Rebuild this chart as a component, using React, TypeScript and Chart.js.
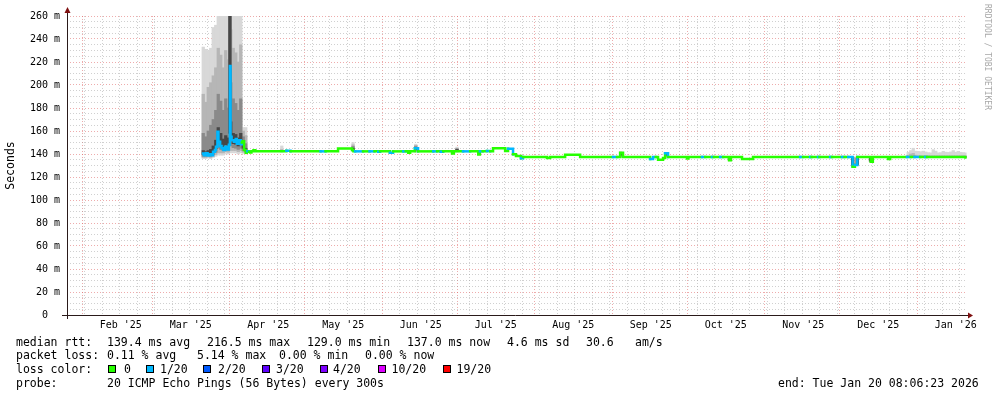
import React, { useEffect, useRef } from 'react';
import { Chart, registerables } from 'chart.js';

Chart.register(...registerables);

// ---------- axis ranges & labels ----------
const RANGE_START = '2025-01-26 00:00';
const RANGE_END = '2026-01-21 00:00';

const MONTH_STARTS = [
  '2025-02-01', '2025-03-01', '2025-04-01', '2025-05-01', '2025-06-01', '2025-07-01',
  '2025-08-01', '2025-09-01', '2025-10-01', '2025-11-01', '2025-12-01', '2026-01-01',
];
const MONTH_LABELS = [
  "Feb '25", "Mar '25", "Apr '25", "May '25", "Jun '25", "Jul '25",
  "Aug '25", "Sep '25", "Oct '25", "Nov '25", "Dec '25", "Jan '26",
];

const Y_MIN = 0;
const Y_MAX = 260;
const Y_MINOR_STEP = 5;
const Y_MAJOR_STEP = 20;
const Y_TITLE = 'Seconds';

// ---------- loss colours ----------
const LOSS_LABELS = ['0', '1/20', '2/20', '3/20', '4/20', '10/20', '19/20'];
const LOSS_COLORS = ['#26ff00', '#00b8ff', '#0059ff', '#5e00ff', '#7e00ff', '#dd00ff', '#ff0000'];

// ---------- median rtt (ms): [time, value, loss colour index] ----------
const medianPoints: [string, number, number][] = [
  ['2025-03-21 10:00', 140.5, 1],
  ['2025-03-21 18:00', 139.0, 1],
  ['2025-03-22 12:00', 140.6, 1],
  ['2025-03-23 06:00', 138.8, 1],
  ['2025-03-24 00:00', 139.7, 1],
  ['2025-03-24 18:00', 138.9, 1],
  ['2025-03-25 10:00', 142.0, 1],
  ['2025-03-26 04:00', 143.5, 1],
  ['2025-03-26 14:00', 146.4, 1],
  ['2025-03-27 04:00', 159.4, 1],
  ['2025-03-27 14:00', 150.7, 1],
  ['2025-03-28 06:00', 147.0, 1],
  ['2025-03-28 20:00', 145.0, 1],
  ['2025-03-29 14:00', 143.5, 1],
  ['2025-03-30 04:00', 146.4, 1],
  ['2025-03-31 00:00', 144.0, 1],
  ['2025-03-31 18:00', 148.0, 1],
  ['2025-04-01 04:00', 216.5, 1],
  ['2025-04-01 10:00', 155.0, 1],
  ['2025-04-01 20:00', 152.0, 1],
  ['2025-04-02 18:00', 150.7, 1],
  ['2025-04-03 12:00', 153.0, 1],
  ['2025-04-03 22:00', 149.0, 1],
  ['2025-04-04 18:00', 152.0, 1],
  ['2025-04-05 12:00', 148.5, 1],
  ['2025-04-05 22:00', 150.0, 0],
  ['2025-04-06 06:00', 151.0, 0],
  ['2025-04-06 20:00', 143.5, 0],
  ['2025-04-07 12:00', 141.0, 0],
  ['2025-04-07 22:00', 142.3, 0],
  ['2025-04-08 04:00', 142.3, 1],
  ['2025-04-08 20:00', 142.0, 0],
  ['2025-04-09 06:00', 141.4, 0],
  ['2025-04-09 18:00', 142.3, 0],
  ['2025-04-10 14:00', 143.2, 0],
  ['2025-04-11 08:00', 142.3, 0],
  ['2025-04-23 18:00', 142.8, 1],
  ['2025-04-25 10:00', 142.3, 0],
  ['2025-05-07 10:00', 142.3, 1],
  ['2025-05-09 10:00', 142.3, 0],
  ['2025-05-14 10:00', 144.8, 0],
  ['2025-05-20 00:00', 143.5, 0],
  ['2025-05-20 14:00', 142.3, 0],
  ['2025-05-21 06:00', 142.3, 1],
  ['2025-05-24 10:00', 142.3, 0],
  ['2025-05-27 00:00', 142.3, 1],
  ['2025-05-29 00:00', 142.3, 0],
  ['2025-05-30 12:00', 142.0, 1],
  ['2025-05-31 06:00', 142.3, 0],
  ['2025-06-04 04:00', 141.0, 1],
  ['2025-06-05 10:00', 142.3, 0],
  ['2025-06-09 12:00', 142.3, 1],
  ['2025-06-10 12:00', 142.3, 0],
  ['2025-06-11 12:00', 141.0, 0],
  ['2025-06-12 06:00', 142.3, 0],
  ['2025-06-14 04:00', 145.0, 1],
  ['2025-06-15 10:00', 142.3, 0],
  ['2025-06-21 12:00', 142.3, 1],
  ['2025-06-23 00:00', 142.3, 0],
  ['2025-06-24 12:00', 142.0, 1],
  ['2025-06-25 12:00', 142.3, 0],
  ['2025-06-29 00:00', 140.4, 0],
  ['2025-06-29 18:00', 142.3, 0],
  ['2025-07-03 10:00', 142.3, 1],
  ['2025-07-06 06:00', 142.3, 0],
  ['2025-07-09 12:00', 139.6, 0],
  ['2025-07-10 04:00', 142.3, 1],
  ['2025-07-11 06:00', 142.3, 0],
  ['2025-07-13 00:00', 142.6, 1],
  ['2025-07-14 06:00', 142.3, 0],
  ['2025-07-15 10:00', 145.0, 0],
  ['2025-07-20 06:00', 142.6, 0],
  ['2025-07-21 10:00', 144.5, 1],
  ['2025-07-23 10:00', 139.8, 0],
  ['2025-07-24 14:00', 138.2, 0],
  ['2025-07-26 14:00', 136.2, 1],
  ['2025-07-27 10:00', 137.4, 0],
  ['2025-08-06 00:00', 136.5, 0],
  ['2025-08-07 06:00', 137.4, 0],
  ['2025-08-13 06:00', 139.3, 0],
  ['2025-08-19 06:00', 137.4, 0],
  ['2025-09-01 10:00', 137.4, 1],
  ['2025-09-03 00:00', 137.4, 0],
  ['2025-09-04 06:00', 141.0, 0],
  ['2025-09-05 10:00', 137.4, 0],
  ['2025-09-16 06:00', 135.6, 1],
  ['2025-09-17 10:00', 137.4, 1],
  ['2025-09-18 12:00', 137.4, 0],
  ['2025-09-19 10:00', 135.0, 0],
  ['2025-09-21 10:00', 136.5, 0],
  ['2025-09-22 06:00', 140.6, 1],
  ['2025-09-23 10:00', 137.4, 0],
  ['2025-10-01 00:00', 136.0, 0],
  ['2025-10-01 14:00', 137.4, 0],
  ['2025-10-07 00:00', 137.4, 1],
  ['2025-10-08 06:00', 137.4, 0],
  ['2025-10-11 00:00', 137.4, 1],
  ['2025-10-11 18:00', 137.4, 0],
  ['2025-10-14 06:00', 137.4, 1],
  ['2025-10-15 10:00', 137.4, 0],
  ['2025-10-17 20:00', 134.5, 0],
  ['2025-10-18 14:00', 137.4, 0],
  ['2025-10-23 00:00', 135.6, 0],
  ['2025-10-27 10:00', 137.4, 0],
  ['2025-11-15 06:00', 137.4, 1],
  ['2025-11-16 10:00', 137.4, 0],
  ['2025-11-19 06:00', 137.4, 1],
  ['2025-11-19 20:00', 137.4, 0],
  ['2025-11-22 10:00', 137.4, 1],
  ['2025-11-23 00:00', 137.4, 0],
  ['2025-11-27 06:00', 137.4, 1],
  ['2025-11-28 00:00', 137.4, 0],
  ['2025-12-02 00:00', 137.4, 1],
  ['2025-12-03 00:00', 137.4, 0],
  ['2025-12-04 12:00', 137.4, 1],
  ['2025-12-06 06:00', 129.0, 0],
  ['2025-12-07 04:00', 130.4, 1],
  ['2025-12-08 03:00', 137.4, 0],
  ['2025-12-13 12:00', 133.3, 0],
  ['2025-12-14 08:00', 137.4, 0],
  ['2025-12-20 10:00', 135.6, 0],
  ['2025-12-21 06:00', 137.4, 0],
  ['2025-12-28 00:00', 137.4, 1],
  ['2025-12-29 12:00', 137.4, 0],
  ['2025-12-31 00:00', 137.4, 1],
  ['2026-01-02 06:00', 137.4, 0],
  ['2026-01-04 06:00', 137.4, 1],
  ['2026-01-05 00:00', 137.4, 0],
  ['2026-01-20 08:00', 137.0, 0],
];

// ---------- smoke (ms): [time, min, p10, p25, p40, p60, p75, p90, max] ----------
type SmokeRow = [string, number, number, number, number, number, number, number, number];

const heavySmoke: SmokeRow[] = [
  ['2025-03-21 12:00', 136.0, 137.0, 138.0, 139.5, 143.0, 158.0, 192.0, 233.0],
  ['2025-03-22 12:00', 136.0, 137.0, 138.0, 139.0, 142.0, 155.0, 185.0, 231.0],
  ['2025-03-23 12:00', 136.5, 137.5, 138.5, 140.0, 143.0, 160.0, 198.0, 230.0],
  ['2025-03-24 12:00', 136.0, 137.0, 138.0, 140.0, 144.0, 165.0, 202.0, 232.0],
  ['2025-03-25 12:00', 137.0, 138.0, 139.5, 141.5, 147.0, 170.0, 208.0, 250.0],
  ['2025-03-26 12:00', 138.0, 139.5, 141.5, 144.5, 152.0, 178.0, 215.0, 252.0],
  ['2025-03-27 12:00', 139.0, 141.0, 145.0, 150.0, 163.0, 192.0, 232.0, 300.0],
  ['2025-03-28 12:00', 139.0, 141.0, 144.0, 148.0, 158.0, 186.0, 226.0, 300.0],
  ['2025-03-29 12:00', 139.0, 141.0, 143.0, 146.0, 153.0, 178.0, 215.0, 300.0],
  ['2025-03-30 12:00', 140.0, 142.0, 144.0, 148.0, 156.0, 188.0, 230.0, 300.0],
  ['2025-03-31 12:00', 140.0, 141.5, 143.5, 147.0, 154.0, 180.0, 222.0, 300.0],
  ['2025-04-01 04:00', 146.0, 150.0, 154.0, 158.0, 300.0, 300.0, 300.0, 300.0],
  ['2025-04-01 12:00', 141.0, 143.0, 147.0, 152.0, 168.0, 202.0, 248.0, 300.0],
  ['2025-04-02 12:00', 141.0, 143.0, 145.5, 149.0, 158.0, 188.0, 232.0, 300.0],
  ['2025-04-03 12:00', 141.0, 143.0, 145.0, 148.5, 157.0, 184.0, 228.0, 300.0],
  ['2025-04-04 12:00', 140.0, 142.0, 144.0, 147.0, 154.0, 178.0, 220.0, 300.0],
  ['2025-04-05 12:00', 141.0, 143.0, 145.0, 148.5, 158.0, 188.0, 235.0, 300.0],
  ['2025-04-06 12:00', 140.5, 141.5, 143.0, 145.0, 149.0, 155.0, 160.0, 163.0],
  ['2025-04-07 12:00', 140.0, 141.0, 142.0, 143.0, 145.0, 149.0, 156.0, 163.0],
];

const spikeSmoke: SmokeRow[] = [
  ['2025-04-21 22:00', 141.5, 142.0, 142.0, 142.2, 142.5, 143.0, 144.0, 147.0],
  ['2025-05-20 10:00', 142.0, 142.5, 143.0, 143.5, 145.0, 146.5, 148.0, 150.0],
  ['2025-06-14 12:00', 141.5, 142.0, 143.0, 144.0, 145.5, 146.5, 147.5, 148.5],
  ['2025-07-01 00:00', 141.5, 142.0, 142.5, 143.0, 144.0, 144.5, 145.0, 146.0],
  ['2025-09-04 12:00', 137.0, 137.5, 138.0, 139.0, 140.5, 141.0, 141.5, 142.0],
  ['2025-09-22 12:00', 137.0, 137.5, 138.0, 139.0, 140.0, 140.5, 141.0, 141.5],
  ['2025-10-18 00:00', 134.0, 134.3, 134.6, 135.0, 137.0, 137.4, 137.6, 138.0],
  ['2025-12-06 06:00', 129.0, 129.3, 129.6, 130.5, 136.5, 137.0, 137.5, 138.0],
  ['2025-12-08 03:00', 130.0, 130.2, 130.5, 131.0, 136.5, 137.0, 137.5, 138.0],
  ['2025-12-13 10:00', 133.0, 133.2, 133.5, 134.0, 136.5, 137.0, 137.5, 138.0],
];

const tailSmoke: SmokeRow[] = [
  ['2025-12-28 12:00', 136.8, 137.0, 137.2, 137.3, 137.5, 137.8, 139.0, 141.5],
  ['2025-12-29 12:00', 136.8, 137.0, 137.2, 137.3, 137.5, 138.0, 140.0, 143.0],
  ['2025-12-30 12:00', 136.8, 137.0, 137.2, 137.3, 137.5, 138.2, 140.5, 145.0],
  ['2025-12-31 12:00', 136.8, 137.0, 137.2, 137.3, 137.5, 137.8, 139.0, 142.5],
  ['2026-01-01 12:00', 136.8, 137.0, 137.2, 137.3, 137.5, 137.8, 138.5, 142.3],
  ['2026-01-02 12:00', 136.8, 137.0, 137.2, 137.3, 137.5, 137.8, 138.5, 142.0],
  ['2026-01-03 12:00', 136.8, 137.0, 137.2, 137.3, 137.5, 137.8, 138.5, 142.5],
  ['2026-01-04 12:00', 136.8, 137.0, 137.2, 137.3, 137.5, 137.8, 138.5, 141.8],
  ['2026-01-05 12:00', 136.8, 137.0, 137.2, 137.3, 137.5, 137.8, 138.5, 141.2],
  ['2026-01-06 12:00', 136.8, 137.0, 137.2, 137.3, 137.5, 137.8, 138.5, 141.0],
  ['2026-01-07 12:00', 136.8, 137.0, 137.2, 137.3, 137.5, 137.8, 138.5, 143.8],
  ['2026-01-08 12:00', 136.8, 137.0, 137.2, 137.3, 137.5, 137.8, 138.5, 142.5],
  ['2026-01-09 12:00', 136.8, 137.0, 137.2, 137.3, 137.5, 137.8, 138.5, 141.0],
  ['2026-01-10 12:00', 136.8, 137.0, 137.2, 137.3, 137.5, 137.8, 138.5, 141.2],
  ['2026-01-11 12:00', 136.8, 137.0, 137.2, 137.3, 137.5, 137.8, 138.5, 142.3],
  ['2026-01-12 12:00', 136.8, 137.0, 137.2, 137.3, 137.5, 137.8, 138.5, 141.6],
  ['2026-01-13 12:00', 136.8, 137.0, 137.2, 137.3, 137.5, 137.8, 138.5, 141.4],
  ['2026-01-14 12:00', 136.8, 137.0, 137.2, 137.3, 137.5, 137.8, 138.5, 141.8],
  ['2026-01-15 12:00', 136.8, 137.0, 137.2, 137.3, 137.5, 137.8, 138.5, 143.0],
  ['2026-01-16 12:00', 136.8, 137.0, 137.2, 137.3, 137.5, 137.8, 138.5, 141.6],
  ['2026-01-17 12:00', 136.8, 137.0, 137.2, 137.3, 137.5, 137.8, 138.5, 142.3],
  ['2026-01-18 12:00', 136.8, 137.0, 137.2, 137.3, 137.5, 137.8, 138.5, 141.5],
  ['2026-01-19 12:00', 136.8, 137.0, 137.2, 137.3, 137.5, 137.8, 138.5, 141.2],
  ['2026-01-20 04:00', 136.8, 137.0, 137.2, 137.3, 137.5, 137.8, 138.5, 141.0],
];

// ---------- legend texts ----------
const RTT_LABEL = 'median rtt:';
const RTT_STATS = ['139.4 ms avg', '216.5 ms max', '129.0 ms min', '137.0 ms now', '4.6 ms sd', '30.6', 'am/s'];
const LOSS_LABEL = 'packet loss:';
const LOSS_STATS = ['0.11 % avg', '5.14 % max', '0.00 % min', '0.00 % now'];
const COLOR_LABEL = 'loss color:';
const PROBE_LABEL = 'probe:';
const PROBE_TEXT = '20 ICMP Echo Pings (56 Bytes) every 300s';
const END_TEXT = 'end: Tue Jan 20 08:06:23 2026';
const CREDIT_TEXT = 'RRDTOOL / TOBI OETIKER';

// ---------- layout constants ----------
const W = 997;
const H = 397;
const FONT = '"DejaVu Sans Mono", monospace';
const RTT_X = [107, 207, 307, 407, 507, 586, 635];
const LOSS_X = [107, 197, 279, 365];
const SWATCH_X = [108, 146, 203, 261.5, 320, 378, 443];
const SWATCH_TEXT_X = [124, 160, 218, 276, 333, 391.5, 456.5];
const ROW_Y = [341.5, 355, 369, 383];

// ---------- helpers ----------
const DAY_MS = 86400000;
const parseTime = (s: string) => {
  const [d, t = '00:00'] = s.split(' ');
  return Date.parse(`${d}T${t}:00Z`);
};
const T0 = parseTime(RANGE_START);
const toDay = (s: string) => (parseTime(s) - T0) / DAY_MS;
const TOTAL_DAYS = toDay(RANGE_END);

const monthStartDays = new Set<number>();
const xGridTicks: number[] = [];
for (let d = 0; d <= TOTAL_DAYS; d++) {
  const dt = new Date(T0 + d * DAY_MS);
  const isMonth = dt.getUTCDate() === 1;
  if (isMonth) monthStartDays.add(d);
  if (isMonth || dt.getUTCDay() === 0) xGridTicks.push(d);
}
const yTicks: number[] = [];
for (let v = Y_MIN; v <= Y_MAX; v += Y_MINOR_STEP) yTicks.push(v);

const MAJOR_GRID = 'rgba(222, 90, 90, 0.5)';
const MINOR_GRID = 'rgba(150, 150, 150, 0.45)';
const AXIS_COLOR = '#2a1a1a';
const ARROW_COLOR = '#7f1010';

const axesPlugin = {
  id: 'rrdAxes',
  afterDatasetsDraw(chart: any) {
    const { ctx, chartArea } = chart;
    const { left, right, top, bottom } = chartArea;
    const yb = Math.round(bottom) + 0.5;
    const xl = Math.round(left) + 0.5;
    ctx.save();
    ctx.strokeStyle = AXIS_COLOR;
    ctx.lineWidth = 1;
    ctx.beginPath();
    ctx.moveTo(left - 5, yb);
    ctx.lineTo(right + 2, yb);
    ctx.moveTo(xl, bottom + 4);
    ctx.lineTo(xl, top - 3);
    ctx.stroke();
    ctx.fillStyle = ARROW_COLOR;
    ctx.beginPath();
    ctx.moveTo(right + 1, yb - 3);
    ctx.lineTo(right + 6, yb);
    ctx.lineTo(right + 1, yb + 3);
    ctx.closePath();
    ctx.fill();
    ctx.beginPath();
    ctx.moveTo(xl - 3, top - 3);
    ctx.lineTo(xl, top - 9);
    ctx.lineTo(xl + 3, top - 3);
    ctx.closePath();
    ctx.fill();
    ctx.restore();
  },
};

const textStyle = (x: number, cy: number): React.CSSProperties => ({
  position: 'absolute',
  left: x,
  top: cy - 7,
  lineHeight: '14px',
  fontSize: '11.5px',
  fontFamily: FONT,
  whiteSpace: 'pre',
  color: '#000',
});

export default function App() {
  const canvasRef = useRef<HTMLCanvasElement>(null);

  useEffect(() => {
    const canvas = canvasRef.current;
    if (!canvas) return;

    const smokeRows = [...heavySmoke, ...spikeSmoke, ...tailSmoke];
    const bands = [
      { lo: 1, hi: 8, color: '#d8d8d8', order: 4 },
      { lo: 2, hi: 7, color: '#b6b6b6', order: 3 },
      { lo: 3, hi: 6, color: '#8a8a8a', order: 2 },
      { lo: 4, hi: 5, color: '#474747', order: 1 },
    ];
    const smokeDatasets = bands.map((b, i) => ({
      type: 'bar' as const,
      label: `smoke ${i}`,
      data: smokeRows.map((r) => ({ x: toDay(r[0]), y: [r[b.lo], r[b.hi]] })),
      backgroundColor: b.color,
      borderWidth: 0,
      barThickness: 2.6,
      stack: 'smoke',
      order: b.order,
      xAxisID: 'x',
      yAxisID: 'y',
    }));

    const lineDataset = {
      type: 'line' as const,
      label: 'median rtt',
      data: medianPoints.map(([d, v]) => ({ x: toDay(d), y: v })),
      borderColor: LOSS_COLORS[0],
      borderWidth: 2.5,
      stepped: true,
      pointRadius: 0,
      pointHoverRadius: 0,
      fill: false,
      borderCapStyle: 'square' as const,
      borderJoinStyle: 'miter' as const,
      order: 0,
      xAxisID: 'x',
      yAxisID: 'y',
      segment: {
        borderColor: (c: any) => LOSS_COLORS[medianPoints[c.p0DataIndex][2]],
      },
    };

    const tickFont = { family: FONT, size: 10 };

    const chart = new Chart(canvas, {
      type: 'line',
      data: { datasets: [...smokeDatasets, lineDataset] as any },
      options: {
        responsive: false,
        animation: false,
        events: [],
        devicePixelRatio: 1,
        layout: { padding: { top: 16, right: 30, bottom: 62, left: 0 } },
        plugins: { legend: { display: false }, tooltip: { enabled: false } },
        scales: {
          x: {
            type: 'linear',
            position: 'bottom',
            min: 0,
            max: TOTAL_DAYS,
            offset: false,
            afterBuildTicks: (s: any) => {
              s.ticks = xGridTicks.map((v) => ({ value: v }));
            },
            afterFit: (s: any) => {
              s.height = 0;
            },
            grid: {
              color: (c: any) => (monthStartDays.has(c.tick?.value) ? MAJOR_GRID : MINOR_GRID),
              lineWidth: 1,
              drawTicks: false,
              offset: false,
            },
            border: { display: false, dash: [1, 2] },
            ticks: { display: false },
          },
          xl: {
            type: 'linear',
            position: 'bottom',
            min: 0,
            max: TOTAL_DAYS,
            offset: false,
            afterBuildTicks: (s: any) => {
              s.ticks = MONTH_STARTS.map((d) => ({ value: toDay(d) + 15.5 }));
            },
            afterFit: (s: any) => {
              s.height = 20;
            },
            grid: { display: false, drawTicks: false },
            border: { display: false },
            ticks: {
              padding: 4,
              autoSkip: false,
              maxRotation: 0,
              minRotation: 0,
              color: '#000',
              font: tickFont,
              callback: (_v: any, i: number) => MONTH_LABELS[i],
            },
          },
          y: {
            type: 'linear',
            position: 'left',
            min: Y_MIN,
            max: Y_MAX,
            stacked: false,
            afterBuildTicks: (s: any) => {
              s.ticks = yTicks.map((v) => ({ value: v }));
            },
            afterFit: (s: any) => {
              s.width = 67;
            },
            grid: {
              color: (c: any) => ((c.tick?.value ?? 1) % Y_MAJOR_STEP === 0 ? MAJOR_GRID : MINOR_GRID),
              lineWidth: 1,
              drawTicks: false,
            },
            border: { display: false, dash: [1, 2] },
            ticks: {
              padding: 7,
              autoSkip: false,
              color: '#000',
              font: tickFont,
              callback: (v: any) => {
                const n = Number(v);
                if (n % Y_MAJOR_STEP !== 0) return '';
                return n === 0 ? '0  ' : `${n} m`;
              },
            },
            title: {
              display: true,
              text: Y_TITLE,
              color: '#000',
              font: { family: FONT, size: 11.5 },
              padding: { top: 4, bottom: 0 },
            },
          },
        },
      } as any,
      plugins: [axesPlugin],
    });

    return () => chart.destroy();
  }, []);

  return (
    <div
      style={{
        position: 'fixed',
        left: 0,
        top: 0,
        width: W,
        height: H,
        background: '#fff',
        overflow: 'hidden',
      }}
    >
      <canvas
        ref={canvasRef}
        width={W}
        height={H}
        style={{ position: 'absolute', left: 0, top: 0, width: W, height: H }}
      />
      <span style={textStyle(16, ROW_Y[0])}>{RTT_LABEL}</span>
      {RTT_STATS.map((t, i) => (
        <span key={`r${i}`} style={textStyle(RTT_X[i], ROW_Y[0])}>{t}</span>
      ))}
      <span style={textStyle(16, ROW_Y[1])}>{LOSS_LABEL}</span>
      {LOSS_STATS.map((t, i) => (
        <span key={`l${i}`} style={textStyle(LOSS_X[i], ROW_Y[1])}>{t}</span>
      ))}
      <span style={textStyle(16, ROW_Y[2])}>{COLOR_LABEL}</span>
      {LOSS_LABELS.map((t, i) => (
        <React.Fragment key={`c${i}`}>
          <div
            style={{
              position: 'absolute',
              left: SWATCH_X[i],
              top: ROW_Y[2] - 4,
              width: 8,
              height: 8,
              boxSizing: 'border-box',
              border: '1px solid #000',
              background: LOSS_COLORS[i],
            }}
          />
          <span style={textStyle(SWATCH_TEXT_X[i], ROW_Y[2])}>{t}</span>
        </React.Fragment>
      ))}
      <span style={textStyle(16, ROW_Y[3])}>{PROBE_LABEL}</span>
      <span style={textStyle(107, ROW_Y[3])}>{PROBE_TEXT}</span>
      <span style={textStyle(778, ROW_Y[3])}>{END_TEXT}</span>
      <span
        style={{
          position: 'absolute',
          left: 982,
          top: 4,
          writingMode: 'vertical-rl',
          fontSize: '8px',
          lineHeight: '10px',
          fontFamily: FONT,
          color: '#a8a8a8',
          whiteSpace: 'pre',
        }}
      >
        {CREDIT_TEXT}
      </span>
    </div>
  );
}
